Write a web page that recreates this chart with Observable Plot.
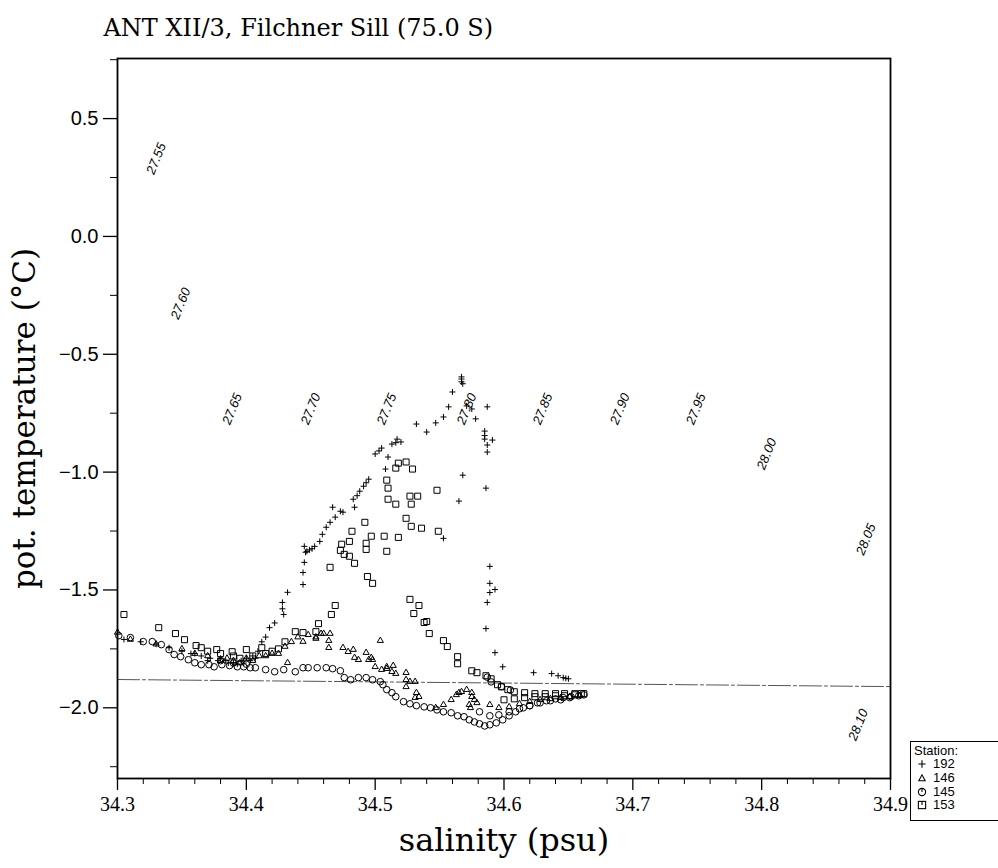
<!DOCTYPE html>
<html><head><meta charset="utf-8">
<script src="https://cdn.jsdelivr.net/npm/d3@7"></script>
<script src="https://cdn.jsdelivr.net/npm/@observablehq/plot@0.6"></script>
<style>
body{margin:0;background:#fff;}
#wrap{position:relative;width:998px;height:868px;overflow:hidden;}
#legend{position:absolute;left:910px;top:741px;width:120px;height:80px;border:1px solid #000;border-right:none;
 font-family:"Liberation Sans",sans-serif;font-size:13px;padding:2px 0 0 3px;box-sizing:border-box;color:#000;}
#legend .row{display:flex;align-items:center;gap:6px;height:13.6px;line-height:12px;padding-left:3px}
#legend svg{width:10px;height:10px;overflow:visible}
</style></head><body><div id="wrap"></div>
<script>
// ---- axis ticks ----
const salinityTicks = [34.3, 34.4, 34.5, 34.6, 34.7, 34.8, 34.9];
const salinityMinor = [34.32,34.34,34.36,34.38,34.42,34.44,34.46,34.48,34.52,34.54,34.56,34.58,34.62,34.64,34.66,34.68,34.72,34.74,34.76,34.78,34.82,34.84,34.86,34.88];
const tempTicks = [-2.0, -1.5, -1.0, -0.5, 0.0, 0.5];
const tempMinor = [-2.25, -1.75, -1.25, -0.75, -0.25, 0.25, 0.75];

// ---- isopycnal (sigma-theta) labels: [salinity, temperature, label] ----
const isoS = [34.330, 34.349, 34.389, 34.450, 34.509, 34.571, 34.630, 34.690, 34.749, 34.804, 34.881, 34.875];
const isoT = [0.33, -0.285, -0.732, -0.732, -0.732, -0.732, -0.732, -0.732, -0.732, -0.923, -1.285, -2.072];
const isoText = ["27.55","27.60","27.65","27.70","27.75","27.80","27.85","27.90","27.95","28.00","28.05","28.10"];

// ---- surface freezing point line ----
const freezeS = [34.3, 34.9];
const freezeT = [-1.88, -1.91];

// ---- station 192 (+) ----
const st192 = [[34.305,-1.71],[34.318,-1.72],[34.33,-1.73],[34.34,-1.745],[34.35,-1.76],[34.357,-1.77],[34.36,-1.77],[34.365,-1.78],[34.37,-1.80],[34.372,-1.79],[34.378,-1.80],[34.38,-1.79],[34.384,-1.80],[34.386,-1.81],[34.39,-1.81],[34.393,-1.815],[34.396,-1.80],[34.398,-1.81],[34.40,-1.79],[34.403,-1.80],[34.405,-1.78],[34.407,-1.79],[34.409,-1.76],[34.412,-1.72],[34.415,-1.70],[34.418,-1.66],[34.422,-1.64],[34.428,-1.58],[34.428,-1.553],[34.429,-1.604],[34.432,-1.51],[34.444,-1.477],[34.444,-1.426],[34.445,-1.383],[34.446,-1.34],[34.445,-1.315],[34.447,-1.336],[34.449,-1.33],[34.451,-1.325],[34.453,-1.315],[34.457,-1.294],[34.459,-1.264],[34.462,-1.234],[34.465,-1.213],[34.469,-1.191],[34.467,-1.149],[34.473,-1.166],[34.475,-1.17],[34.484,-1.149],[34.483,-1.115],[34.486,-1.10],[34.488,-1.081],[34.491,-1.06],[34.493,-1.045],[34.495,-1.03],[34.508,-0.987],[34.50,-0.923],[34.503,-0.91],[34.505,-0.898],[34.51,-0.936],[34.513,-0.881],[34.516,-0.875],[34.52,-0.872],[34.517,-0.86],[34.532,-0.796],[34.54,-0.83],[34.547,-0.791],[34.553,-0.766],[34.557,-0.723],[34.56,-0.66],[34.567,-0.596],[34.567,-0.605],[34.567,-0.617],[34.568,-0.625],[34.571,-0.719],[34.575,-0.732],[34.578,-0.774],[34.587,-0.723],[34.585,-0.826],[34.585,-0.845],[34.585,-0.86],[34.591,-0.864],[34.587,-0.885],[34.587,-0.915],[34.568,-1.013],[34.586,-1.068],[34.565,-1.123],[34.553,-1.281],[34.589,-1.40],[34.589,-1.472],[34.593,-1.498],[34.589,-1.511],[34.587,-1.553],[34.586,-1.664],[34.593,-1.766],[34.599,-1.826],[34.623,-1.851],[34.637,-1.855],[34.642,-1.864],[34.646,-1.872],[34.648,-1.875],[34.65,-1.877]];

// ---- station 146 (triangle) ----
const st146 = [[34.30,-1.68],[34.31,-1.71],[34.33,-1.73],[34.35,-1.75],[34.36,-1.77],[34.37,-1.78],[34.38,-1.80],[34.385,-1.79],[34.39,-1.80],[34.395,-1.81],[34.40,-1.79],[34.405,-1.80],[34.41,-1.78],[34.415,-1.78],[34.42,-1.77],[34.425,-1.77],[34.432,-1.809],[34.43,-1.74],[34.435,-1.72],[34.44,-1.70],[34.444,-1.719],[34.448,-1.69],[34.454,-1.70],[34.454,-1.706],[34.458,-1.685],[34.46,-1.685],[34.465,-1.685],[34.464,-1.715],[34.464,-1.745],[34.475,-1.745],[34.479,-1.762],[34.483,-1.753],[34.504,-1.715],[34.484,-1.787],[34.487,-1.796],[34.493,-1.766],[34.495,-1.796],[34.497,-1.787],[34.498,-1.796],[34.50,-1.826],[34.505,-1.838],[34.509,-1.826],[34.509,-1.834],[34.513,-1.847],[34.514,-1.821],[34.516,-1.855],[34.524,-1.851],[34.524,-1.881],[34.524,-1.911],[34.527,-1.889],[34.531,-1.889],[34.532,-1.936],[34.531,-1.957],[34.534,-1.953],[34.547,-2.0],[34.553,-1.987],[34.559,-1.966],[34.563,-1.945],[34.565,-1.936],[34.567,-1.932],[34.571,-1.923],[34.575,-1.936],[34.575,-1.953],[34.577,-1.966],[34.573,-1.987],[34.574,-2.0],[34.579,-1.979],[34.589,-1.987],[34.596,-2.0],[34.604,-1.996],[34.612,-1.983],[34.62,-1.974],[34.628,-1.966],[34.636,-1.962],[34.644,-1.957],[34.651,-1.953],[34.659,-1.949]];

// ---- station 145 (circle) ----
const st145 = [[34.301,-1.694],[34.31,-1.702],[34.32,-1.719],[34.327,-1.719],[34.334,-1.732],[34.34,-1.753],[34.344,-1.774],[34.349,-1.783],[34.355,-1.796],[34.36,-1.809],[34.365,-1.817],[34.371,-1.817],[34.375,-1.826],[34.38,-1.80],[34.381,-1.817],[34.387,-1.821],[34.39,-1.81],[34.393,-1.826],[34.398,-1.826],[34.40,-1.815],[34.403,-1.83],[34.407,-1.83],[34.415,-1.838],[34.422,-1.847],[34.429,-1.838],[34.438,-1.847],[34.444,-1.83],[34.448,-1.83],[34.455,-1.83],[34.462,-1.83],[34.467,-1.834],[34.473,-1.843],[34.476,-1.872],[34.481,-1.881],[34.487,-1.872],[34.493,-1.872],[34.498,-1.881],[34.504,-1.889],[34.506,-1.902],[34.509,-1.923],[34.513,-1.936],[34.516,-1.953],[34.522,-1.974],[34.527,-1.983],[34.532,-1.991],[34.538,-1.996],[34.543,-2.0],[34.548,-2.009],[34.553,-2.017],[34.559,-2.021],[34.564,-2.034],[34.569,-2.038],[34.573,-2.051],[34.577,-2.06],[34.581,-2.068],[34.585,-2.077],[34.589,-2.072],[34.594,-2.064],[34.599,-2.051],[34.604,-2.034],[34.609,-2.017],[34.615,-2.0],[34.62,-1.991],[34.626,-1.979],[34.633,-1.97],[34.64,-1.962],[34.646,-1.957],[34.652,-1.953],[34.658,-1.949],[34.662,-1.945],[34.587,-1.87],[34.59,-1.89],[34.598,-1.91],[34.605,-1.925],[34.581,-2.017],[34.589,-2.034],[34.596,-2.03],[34.604,-2.017],[34.612,-2.004],[34.62,-1.991],[34.628,-1.979],[34.636,-1.97],[34.644,-1.966],[34.651,-1.957]];

// ---- station 153 (square) ----
const st153 = [[34.305,-1.604],[34.332,-1.66],[34.345,-1.685],[34.352,-1.711],[34.361,-1.736],[34.365,-1.745],[34.37,-1.76],[34.377,-1.753],[34.38,-1.77],[34.389,-1.762],[34.39,-1.78],[34.395,-1.79],[34.40,-1.753],[34.405,-1.78],[34.412,-1.745],[34.415,-1.77],[34.42,-1.76],[34.425,-1.75],[34.43,-1.72],[34.438,-1.677],[34.444,-1.681],[34.454,-1.677],[34.456,-1.643],[34.466,-1.604],[34.469,-1.566],[34.465,-1.404],[34.484,-1.387],[34.476,-1.349],[34.48,-1.357],[34.473,-1.332],[34.474,-1.306],[34.48,-1.294],[34.482,-1.251],[34.493,-1.302],[34.493,-1.328],[34.492,-1.213],[34.497,-1.272],[34.507,-1.272],[34.518,-1.277],[34.509,-1.336],[34.51,-1.115],[34.51,-1.068],[34.509,-1.034],[34.516,-0.983],[34.518,-0.962],[34.524,-0.957],[34.529,-0.987],[34.516,-1.136],[34.527,-1.102],[34.533,-1.102],[34.528,-1.136],[34.548,-1.077],[34.524,-1.196],[34.528,-1.23],[34.536,-1.238],[34.549,-1.251],[34.494,-1.443],[34.498,-1.472],[34.527,-1.54],[34.534,-1.566],[34.53,-1.60],[34.538,-1.638],[34.54,-1.634],[34.542,-1.685],[34.553,-1.715],[34.556,-1.74],[34.564,-1.783],[34.564,-1.813],[34.575,-1.843],[34.579,-1.851],[34.586,-1.864],[34.59,-1.877],[34.595,-1.902],[34.598,-1.911],[34.603,-1.923],[34.608,-1.932],[34.616,-1.936],[34.624,-1.94],[34.632,-1.94],[34.64,-1.94],[34.647,-1.94],[34.655,-1.94],[34.66,-1.94],[34.662,-1.94],[34.60,-1.966],[34.608,-1.962],[34.616,-1.957],[34.624,-1.953],[34.632,-1.953],[34.64,-1.949],[34.647,-1.949],[34.655,-1.945]];

const xy = {x: d => d[0], y: d => d[1]};
const plot = Plot.plot({
  width: 998, height: 868,
  marginLeft: 117, marginRight: 108, marginTop: 58, marginBottom: 90,
  x: {domain: [34.3, 34.9]},
  y: {domain: [-2.3, 0.755]},
  style: {background: "#fff", color: "#000"},
  marks: [
    Plot.axisX({ticks: salinityTicks, tickSize: 12, tickPadding: 6, tickFormat: d3.format(".1f"), label: null, fontSize: 20, fontFamily: "Liberation Serif", strokeWidth: 1.3}),
    Plot.axisX({ticks: salinityMinor, tickSize: 6, tickFormat: () => "", label: null, strokeWidth: 1}),
    Plot.axisY({ticks: tempTicks, tickSize: 14, tickPadding: 5, tickFormat: d3.format(".1f"), label: null, fontSize: 20, fontFamily: "Liberation Sans", strokeWidth: 1.3}),
    Plot.axisY({ticks: tempMinor.filter(t => t >= -2.3 && t <= 0.755), tickSize: 7, tickFormat: () => "", label: null, strokeWidth: 1}),
    Plot.line(freezeS.map((s, i) => [s, freezeT[i]]), {...xy, stroke: "#555", strokeWidth: 1, strokeDasharray: "22,3,3,3"}),
    Plot.text(isoText, {x: (d, i) => isoS[i], y: (d, i) => isoT[i], text: d => d, rotate: -68, fontSize: 13, fontStyle: "italic", fontFamily: "Liberation Sans"}),
    Plot.dot(st145, {...xy, symbol: "circle", r: 3.3, stroke: "#000", fill: "none", strokeWidth: 1}),
    Plot.dot(st146, {...xy, symbol: "triangle", r: 2.3, stroke: "#000", fill: "none", strokeWidth: 1}),
    Plot.dot(st153, {...xy, symbol: "square", r: 3.4, stroke: "#000", fill: "none", strokeWidth: 1}),
    Plot.dot(st192, {...xy, symbol: "plus", r: 2.1, stroke: "#000", strokeWidth: 1}),
    Plot.frame({stroke: "#000", strokeWidth: 1.8}),
    Plot.text(["ANT XII/3, Filchner Sill (75.0 S)"], {frameAnchor: "top-left", text: d => d, dx: -14, dy: -40, textAnchor: "start", fontSize: 24, fontFamily: "DejaVu Serif"}),
    Plot.text(["pot. temperature (°C)"], {frameAnchor: "left", text: d => d, rotate: -90, dx: -92, textAnchor: "middle", fontSize: 31, fontFamily: "DejaVu Serif"}),
    Plot.text(["salinity (psu)"], {frameAnchor: "bottom", text: d => d, dy: 72, textAnchor: "middle", fontSize: 32, fontFamily: "DejaVu Serif"})
  ]
});
const wrap = document.getElementById("wrap");
wrap.appendChild(plot);

const legendRows = [["Station:", null], ["192", "plus"], ["146", "tri"], ["145", "circ"], ["153", "sq"]];
const lg = document.createElement("div");
lg.id = "legend";
const icons = {
  plus: '<path d="M-4,0H4M0,-4V4" stroke="#000" stroke-width="1.2"/>',
  tri: '<path d="M-3.5,3L0,-3.5L3.5,3Z" stroke="#000" fill="none" stroke-width="1.2"/>',
  circ: '<circle r="4" stroke="#000" fill="none" stroke-width="1.2"/><path d="M0,-4V0" stroke="#000" stroke-width="1.2"/>',
  sq: '<rect x="-4" y="-4" width="8" height="8" stroke="#000" fill="none" stroke-width="1.2"/><path d="M0,-4V0" stroke="#000" stroke-width="1.2"/>'
};
for (const [t, ic] of legendRows) {
  const r = document.createElement("div");
  r.className = "row";
  r.innerHTML = ic ? `<svg viewBox="-5.5 -5.5 11 11">${icons[ic]}</svg><span>${t}</span>` : `<span style="margin-left:-3px">${t}</span>`;
  lg.appendChild(r);
}
wrap.appendChild(lg);
</script>
</body></html>
